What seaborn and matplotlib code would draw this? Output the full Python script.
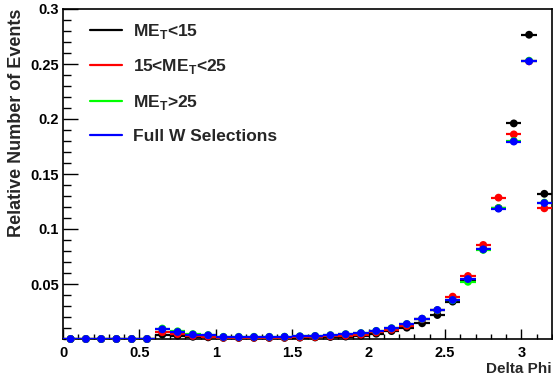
import matplotlib
matplotlib.use("Agg")
import matplotlib.pyplot as plt
from matplotlib.lines import Line2D
from matplotlib.ticker import MultipleLocator, FixedLocator
import seaborn as sns
import pandas as pd

# Bin centres of the Delta Phi histogram (bin width 0.1)
delta_phi = [0.05, 0.15, 0.25, 0.35, 0.45, 0.55, 0.65, 0.75, 0.85, 0.95,
             1.05, 1.15, 1.25, 1.35, 1.45, 1.55, 1.65, 1.75, 1.85, 1.95,
             2.05, 2.15, 2.25, 2.35, 2.45, 2.55, 2.65, 2.75, 2.85, 2.95,
             3.05, 3.15]

# Normalised event fractions per selection
met_low = [0, 0, 0, 0, 0, 0, 0.0040, 0.0030, 0.0020, 0.0015,
           0.0010, 0.0010, 0.0010, 0.0010, 0.0010, 0.0012, 0.0014, 0.0018, 0.0022, 0.0030,
           0.0048, 0.0072, 0.0103, 0.0143, 0.0218, 0.0340, 0.0535, 0.0815, 0.1190, 0.1960,
           0.2766, 0.1320]
met_mid = [0, 0, 0, 0, 0, 0, 0.0062, 0.0045, 0.0028, 0.0022,
           0.0012, 0.0012, 0.0012, 0.0012, 0.0013, 0.0015, 0.0018, 0.0024, 0.0030, 0.0040,
           0.0060, 0.0085, 0.0120, 0.0180, 0.0260, 0.0385, 0.0573, 0.0855, 0.1285, 0.1860,
           0.2524, 0.1188]
met_high = [0, 0, 0, 0, 0, 0, 0.0095, 0.0070, 0.0045, 0.0036,
            0.0020, 0.0020, 0.0020, 0.0020, 0.0021, 0.0025, 0.0028, 0.0035, 0.0044, 0.0054,
            0.0074, 0.0098, 0.0136, 0.0184, 0.0262, 0.0352, 0.0520, 0.0810, 0.1190, 0.1800,
            0.2530, 0.1240]
full_w = [0, 0, 0, 0, 0, 0, 0.0088, 0.0064, 0.0040, 0.0034,
          0.0018, 0.0018, 0.0018, 0.0019, 0.0020, 0.0024, 0.0027, 0.0034, 0.0043, 0.0053,
          0.0073, 0.0097, 0.0136, 0.0185, 0.0264, 0.0355, 0.0545, 0.0815, 0.1185, 0.1795,
          0.2525, 0.1236]

labels = ["ME$_\\mathbf{T}$<15", "15<ME$_\\mathbf{T}$<25", "ME$_\\mathbf{T}$>25",
          "Full W Selections"]
colors = ["#000000", "#ff0000", "#00ff00", "#0000ff"]
half_width = 0.05

sns.set_theme(style="ticks")
plt.rcParams["font.family"] = ["Liberation Sans", "DejaVu Sans"]
plt.rcParams["font.weight"] = "bold"
plt.rcParams["mathtext.fontset"] = "custom"
plt.rcParams["mathtext.bf"] = "Liberation Sans:bold"
plt.rcParams["mathtext.rm"] = "Liberation Sans:bold"

frames = []
for lab, vals in zip(labels, [met_low, met_mid, met_high, full_w]):
    frames.append(pd.DataFrame({"delta_phi": delta_phi, "fraction": vals,
                                "selection": lab}))
df = pd.concat(frames, ignore_index=True)

fig = plt.figure(figsize=(5.53, 3.81), dpi=100)
ax = fig.add_axes([63 / 553, 1 - 339 / 381, 489 / 553, 330 / 381])

for i, (lab, col) in enumerate(zip(labels, colors)):
    sub = df[df["selection"] == lab]
    ax.errorbar(sub["delta_phi"], sub["fraction"], xerr=half_width, fmt="none",
                ecolor=col, elinewidth=1.6, capsize=0, zorder=2 + 2 * i)
    sns.scatterplot(data=sub, x="delta_phi", y="fraction", color=col, s=32,
                    edgecolor="none", linewidth=0, ax=ax, legend=False,
                    zorder=3 + 2 * i, clip_on=False)

ax.set_xlim(0, 3.2)
ax.set_ylim(0, 0.3)

ax.xaxis.set_major_locator(FixedLocator([0, 0.5, 1, 1.5, 2, 2.5, 3]))
ax.xaxis.set_minor_locator(MultipleLocator(0.1))
ax.yaxis.set_major_locator(FixedLocator([0.05, 0.1, 0.15, 0.2, 0.25, 0.3]))
ax.yaxis.set_minor_locator(MultipleLocator(0.01))
ax.set_xticklabels(["0", "0.5", "1", "1.5", "2", "2.5", "3"])
ax.set_yticklabels(["0.05", "0.1", "0.15", "0.2", "0.25", "0.3"])

ax.tick_params(axis="both", which="both", direction="in", top=False, right=False,
               colors="black", labelsize=10.5, width=1)
ax.tick_params(axis="y", which="major", length=10.8, pad=3)
ax.tick_params(axis="y", which="minor", length=5.4)
ax.tick_params(axis="x", which="major", length=7.2, pad=5)
ax.tick_params(axis="x", which="minor", length=3.6)
for t in ax.get_xticklabels() + ax.get_yticklabels():
    t.set_fontweight("bold")

for side in ["left", "bottom", "top", "right"]:
    ax.spines[side].set_color("black")
    ax.spines[side].set_linewidth(1.2)

ax.set_xlabel("Delta Phi", fontsize=11, fontweight="bold", loc="right")
ax.xaxis.set_label_coords(1.0, -(362 - 339) / 330)
ax.set_ylabel("Relative Number of Events", fontsize=13, fontweight="bold", loc="top")
ax.yaxis.set_label_coords((25 - 63) / 489, 1.0)

handles = [Line2D([0], [0], color=c, lw=1.6) for c in colors]
leg = ax.legend(handles, labels, loc="upper left",
                bbox_to_anchor=((90 - 63) / 489, 1 - (22 - 9) / 330),
                frameon=False, fontsize=12.5, handlelength=1.85,
                handletextpad=0.6, labelspacing=0.95, borderpad=0,
                borderaxespad=0)
for t in leg.get_texts():
    t.set_fontweight("bold")

fig.savefig("out.png", dpi=100)
